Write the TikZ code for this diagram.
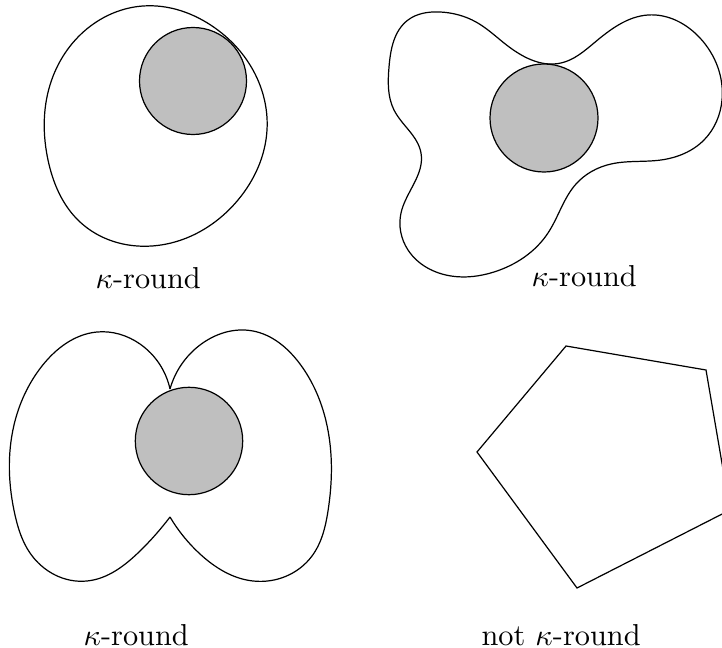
\documentclass[tikz,border=0pt]{standalone}
\usetikzlibrary{hobby}
\begin{document}
\begin{tikzpicture}[x=0.33pt,y=-0.33pt,
  blob/.style={draw=black,line width=0.4pt},
  disc/.style={draw=black,fill=black!25,line width=0.4pt},
  lbl/.style={anchor=base west,inner sep=0pt,font=\normalsize}]
\useasboundingbox (0,0) rectangle (722,648);
% panel 1
\draw[blob] plot[closed hobby] coordinates {(143,6) (215,28) (257,78) (267,130) (238,200) (152,246) (80,222) (48,160) (50,85) (88,28)};
\draw[disc] (193,81) circle (53.5);
\node[lbl] (l1) at (95,288) {$\kappa$-round};
% panel 2
\draw[blob] plot[closed hobby] coordinates {(389,67) (408,20) (440,12) (476,22) (504,43) (561,63) (594,43) (648,15) (700,38) (722,100) (704,140) (661,160) (611,164) (576,184) (548,233) (494,272) (451,276) (408,250) (401,213) (421,153) (394,110)};
\draw[disc] (544,118) circle (54);
\node[lbl] (l2) at (531,287) {$\kappa$-round};
% panel 3
\draw[blob] plot[hobby] coordinates {(170,389) (140,344) (97,332) (42,366) (14,425) (15,515) (30,553) (87,581) (140,551) (170,517)};
\draw[blob] plot[hobby] coordinates {(170,517) (200,554) (253,581) (312,556) (328,511) (326,421) (300,364) (253,331) (200,345) (170,389)};
\draw[disc] (189,441) circle (53.7);
\node[lbl] (l3) at (83,645) {$\kappa$-round};
% panel 4
\draw[blob] (566,346) -- (706,370) -- (730,510) -- (577,588) -- (477,452) -- cycle;
\node[lbl] (l4) at (481,645) {not $\kappa$-round};
\end{tikzpicture}
\end{document}
